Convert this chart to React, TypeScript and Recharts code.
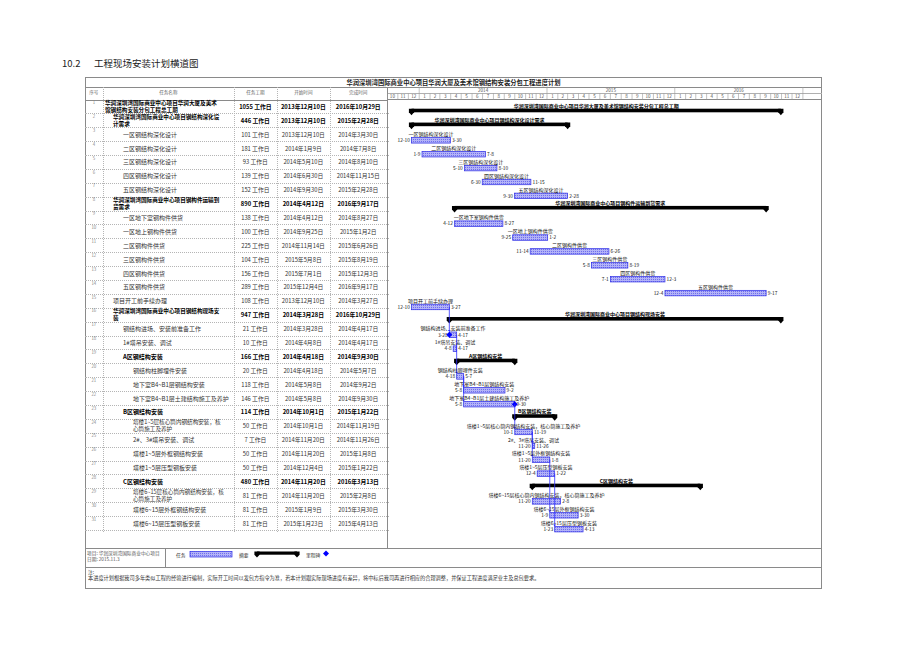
import React from 'react';
import { BarChart, Bar, XAxis, YAxis } from 'recharts';

const taskNames = [
  '华润深圳湾国际商业中心项目华润大厦及美术馆钢结构安装分包工程总工期',
  '华润深圳湾国际商业中心项目钢结构深化设计需求',
  '一区钢结构深化设计',
  '二区钢结构深化设计',
  '三区钢结构深化设计',
  '四区钢结构深化设计',
  '五区钢结构深化设计',
  '华润深圳湾国际商业中心项目钢构件运输到货需求',
  '一区地下室钢构件供货',
  '一区地上钢构件供货',
  '二区钢构件供货',
  '三区钢构件供货',
  '四区钢构件供货',
  '五区钢构件供货',
  '项目开工前手续办理',
  '华润深圳湾国际商业中心项目钢结构现场安装',
  '钢结构进场、安装前准备工作',
  '1#塔吊安装、调试',
  'A区钢结构安装',
  '钢结构柱脚埋件安装',
  '地下室B4~B1层钢结构安装',
  '地下室B4~B1层土建结构施工及养护',
  'B区钢结构安装',
  '塔楼1~5层核心筒内钢结构安装，核心筒施工及养护',
  '2#、3#塔吊安装、调试',
  '塔楼1~5层外框钢结构安装',
  '塔楼1~5层压型钢板安装',
  'C区钢结构安装',
  '塔楼6~15层核心筒内钢结构安装，核心筒施工及养护',
  '塔楼6~15层外框钢结构安装',
  '塔楼6~15层压型钢板安装',
];

const durations = [1055, 446, 101, 181, 93, 139, 152, 890, 138, 100, 225, 104, 156, 289, 108, 947, 21, 10, 166, 20, 118, 146, 114, 50, 7, 50, 50, 480, 81, 81, 81];

const startDates = [
  '2013-12-10', '2013-12-10', '2013-12-10', '2014-01-09', '2014-05-10', '2014-06-30', '2014-09-30',
  '2014-04-12', '2014-04-12', '2014-09-25', '2014-11-14', '2015-05-08', '2015-07-01', '2015-12-04',
  '2013-12-10', '2014-03-28', '2014-03-28', '2014-04-08', '2014-04-18', '2014-04-18', '2014-05-08',
  '2014-05-08', '2014-10-01', '2014-10-01', '2014-11-20', '2014-11-20', '2014-12-04', '2014-11-20',
  '2014-11-20', '2015-01-09', '2015-01-23',
];

const endDates = [
  '2016-10-29', '2015-02-28', '2014-03-30', '2014-07-08', '2014-08-10', '2014-11-15', '2015-02-28',
  '2016-09-17', '2014-08-27', '2015-01-02', '2015-06-26', '2015-08-19', '2015-12-03', '2016-09-17',
  '2014-03-27', '2016-10-29', '2014-04-17', '2014-04-17', '2014-09-30', '2014-05-07', '2014-09-02',
  '2014-09-30', '2015-01-22', '2014-11-19', '2014-11-26', '2015-01-08', '2015-01-22', '2016-03-13',
  '2015-02-08', '2015-03-30', '2015-04-13',
];

// outline level of each task (indent in the name column)
const levels = [0, 1, 2, 2, 2, 2, 2, 1, 2, 2, 2, 2, 2, 2, 1, 1, 2, 2, 2, 3, 3, 3, 2, 3, 3, 3, 3, 2, 3, 3, 3];
// 序号 of summary (摘要) rows
const summaryRows = [1, 2, 8, 16, 19, 23, 28];
// finish-to-start links [predecessor, successor]
const links: [number, number][] = [[15, 17], [17, 20], [20, 21], [20, 22], [22, 24], [24, 25], [24, 26], [26, 30], [27, 31]];
// milestone diamonds [row, which end]
const diamonds: [number, 'start' | 'end'][] = [[17, 'start'], [22, 'end']];
// where the long names wrap in the table (序号 -> chars on first line)
const nameBreaks: Record<number, number> = { 1: 20, 2: 19, 8: 19, 16: 19, 24: 17, 29: 18 };

const headerYears = [2014, 2015, 2016];
const headerFirst = [2013, 10];
const headerLast = [2016, 12];

const tableHeads = ['序号', '任务名称', '任务工期', '开始时间', '完成时间'];

// ---- layout ----
const FONT = '"Noto Sans CJK SC", "Noto Sans", sans-serif';
const FRAME_L = 85;
const FRAME_R = 822;
const FRAME_T = 77;
const FRAME_B = 589;
const HEAD_Y = 87;
const BODY_Y = 99.5;
const BODY_H = 430.5;
const ROW_H = BODY_H / taskNames.length;
const GANTT_X = 386.5;
const CHART_W = FRAME_R - GANTT_X;
const HEADER_H = BODY_Y - HEAD_Y;
const EXTRA_B = 14;
const DOMAIN_END = 1244;
const COLS = [85, 102.7, 234, 276.7, 330, 386.5];
const INDENT = [105, 113, 123, 133];

const DAY = 86400000;
const ORIGIN = Date.UTC(2013, 9, 1);
const dayOf = (s: string) => {
  const [y, m, d] = s.split('-').map(Number);
  return (Date.UTC(y, m - 1, d) - ORIGIN) / DAY;
};
const cnDate = (s: string) => {
  const [y, m, d] = s.split('-').map(Number);
  return `${y}年${m}月${d}日`;
};
const shortDate = (s: string) => {
  const [, m, d] = s.split('-').map(Number);
  return `${m}-${d}`;
};

const rows = taskNames.map((name, i) => ({
  id: i + 1,
  name,
  dur: durations[i],
  start: startDates[i],
  end: endDates[i],
  level: levels[i],
  summary: summaryRows.includes(i + 1),
  range: [dayOf(startDates[i]), dayOf(endDates[i]) + 1],
}));

// header ticks: month dividers, month labels, year labels
type TickInfo = { kind: 'div' | 'month' | 'year'; label?: string; full?: boolean };
const tickInfo = new Map<number, TickInfo>();
{
  let y = headerFirst[0];
  let m = headerFirst[1];
  while (y < headerLast[0] || (y === headerLast[0] && m <= headerLast[1])) {
    const s = (Date.UTC(y, m - 1, 1) - ORIGIN) / DAY;
    const e = (Date.UTC(y, m, 1) - ORIGIN) / DAY;
    tickInfo.set(s, { kind: 'div', full: m === 1 });
    tickInfo.set((s + e) / 2, { kind: 'month', label: String(m) });
    m++;
    if (m > 12) { m = 1; y++; }
  }
  tickInfo.set((Date.UTC(y, m - 1, 1) - ORIGIN) / DAY, { kind: 'div', full: true });
  headerYears.forEach((yr) => {
    const s = (Date.UTC(yr, 0, 1) - ORIGIN) / DAY;
    const e = (Date.UTC(yr + 1, 0, 1) - ORIGIN) / DAY;
    tickInfo.set((s + e) / 2, { kind: 'year', label: String(yr) });
  });
}
const headerTicks = [...tickInfo.keys()].sort((a, b) => a - b);

const HeaderTick = (props: any) => {
  const { x, y, payload } = props;
  const info = tickInfo.get(payload.value);
  if (!info) return <g />;
  if (info.kind === 'div') {
    return <line x1={x} x2={x} y1={y} y2={y - (info.full ? HEADER_H : HEADER_H / 2)} stroke="#9a9a9a" strokeWidth={0.6} />;
  }
  if (info.kind === 'month') {
    return <text x={x} y={y - 1.4} fontSize={4.6} textAnchor="middle" fill="#555" fontFamily={FONT}>{info.label}</text>;
  }
  return <text x={x} y={y - 7.6} fontSize={4.6} textAnchor="middle" fill="#555" fontFamily={FONT}>{info.label}</text>;
};

const GanttShape = (props: any) => {
  const { x, y, width, height, payload } = props;
  if (x == null || payload == null) return <g />;
  const cy = y + height / 2;
  const id = payload.id;
  const labelX = x + width / 2;
  if (payload.summary) {
    const t = cy + 2.2;
    const b = cy + 5.8;
    const cap = (cx: number) => `${cx - 2.6},${t} ${cx + 2.6},${t} ${cx + 2.6},${b} ${cx},${b + 3} ${cx - 2.6},${b}`;
    return (
      <g>
        <rect x={x} y={t} width={width} height={b - t} fill="#000" />
        <polygon points={cap(x)} fill="#000" />
        <polygon points={cap(x + width)} fill="#000" />
        <text x={labelX} y={cy + 1.4} fontSize={5} fontWeight={700} textAnchor="middle" fill="#000" fontFamily={FONT}>{payload.name}</text>
      </g>
    );
  }
  const t = cy + 3.3;
  const h = 5.5;
  const mid = t + h / 2;
  const inLinks = links.filter((l) => l[1] === id);
  const marks = diamonds.filter((d) => d[0] === id);
  return (
    <g>
      {inLinks.map(([p]) => {
        const py = mid - (id - p) * ROW_H;
        return (
          <g key={p}>
            <line x1={x} x2={x} y1={py} y2={t - 1.5} stroke="#2d2dff" strokeWidth={0.8} />
            <polygon points={`${x - 1.4},${t - 2} ${x + 1.4},${t - 2} ${x},${t}`} fill="#2d2dff" />
          </g>
        );
      })}
      <rect x={x} y={t} width={Math.max(width, 1)} height={h} fill="url(#taskHatch)" stroke="#2a2ae6" strokeWidth={0.7} />
      <text x={labelX} y={cy + 1.8} fontSize={5} textAnchor="middle" fill="#111" fontFamily={FONT}>{payload.name}</text>
      <text x={x - 1.6} y={mid + 1.8} fontSize={4.8} textAnchor="end" fill="#111" fontFamily={FONT}>{shortDate(payload.start)}</text>
      <text x={x + width + 1.6} y={mid + 1.8} fontSize={4.8} textAnchor="start" fill="#111" fontFamily={FONT}>{shortDate(payload.end)}</text>
      {marks.map(([, which]) => {
        const dx = which === 'start' ? x : x + width;
        return <polygon key={which} points={`${dx},${mid - 3} ${dx + 3},${mid} ${dx},${mid + 3} ${dx - 3},${mid}`} fill="#0000ff" />;
      })}
    </g>
  );
};

const abs = (left: number, top: number, width: number, height: number, extra: React.CSSProperties = {}): React.CSSProperties => ({
  position: 'absolute', left, top, width, height, boxSizing: 'border-box', ...extra,
});
const HLine = ({ x1, x2, y, s = '1px solid #8a8a8a' }: any) => <div style={abs(x1, y, x2 - x1, 0, { borderTop: s })} />;
const VLine = ({ x, y1, y2, s = '1px solid #8a8a8a' }: any) => <div style={abs(x, y1, 0, y2 - y1, { borderLeft: s })} />;

const NameCell = ({ r, top, color }: any) => {
  const n = nameBreaks[r.id];
  const left = INDENT[r.level];
  const width = COLS[2] - left;
  const weight = r.summary ? 700 : 400;
  if (!n) {
    return (
      <div style={abs(left, top, width, ROW_H, { display: 'flex', alignItems: 'center', fontSize: 6, fontWeight: weight, color, whiteSpace: 'nowrap' })}>
        {r.name}
      </div>
    );
  }
  return (
    <div style={abs(left, top + 0.2, width, ROW_H, { fontSize: 5.6, lineHeight: '7px', fontWeight: weight, color, whiteSpace: 'nowrap' })}>
      {r.name.slice(0, n)}
      <br />
      {r.name.slice(n)}
    </div>
  );
};

export default function App() {
  const dotted = '1px dotted #b5b5b5';
  return (
    <div style={{ position: 'absolute', left: 0, top: 0, width: 920, height: 651, background: '#fff', fontFamily: FONT, color: '#222' }}>
      <svg width={0} height={0} style={{ position: 'absolute' }}>
        <defs>
          <pattern id="taskHatch" width={2} height={2} patternUnits="userSpaceOnUse">
            <rect width={2} height={2} fill="#b3b3f7" />
            <rect width={1} height={1} fill="#6f6fee" />
          </pattern>
        </defs>
      </svg>

      {/* section title */}
      <div style={abs(62, 57, 40, 12, { fontSize: 9.5, lineHeight: '12px' })}>10.2</div>
      <div style={abs(94, 57, 200, 12, { fontSize: 9.5, lineHeight: '12px' })}>工程现场安装计划横道图</div>

      {/* frame */}
      <div style={abs(FRAME_L, FRAME_T, FRAME_R - FRAME_L, FRAME_B - FRAME_T, { border: '1px solid #8a8a8a' })} />
      <div style={abs(FRAME_L, FRAME_T, FRAME_R - FRAME_L, HEAD_Y - FRAME_T, { display: 'flex', alignItems: 'center', justifyContent: 'center', fontSize: 6.3, fontWeight: 700 })}>
        华润深圳湾国际商业中心项目华润大厦及美术馆钢结构安装分包工程进度计划
      </div>
      <HLine x1={FRAME_L} x2={FRAME_R} y={HEAD_Y} />
      <HLine x1={FRAME_L} x2={GANTT_X} y={BODY_Y} />
      <HLine x1={GANTT_X} x2={FRAME_R} y={HEAD_Y + HEADER_H / 2} s="1px solid #b0b0b0" />

      {/* table header */}
      {tableHeads.map((h, i) => (
        <div key={h} style={abs(COLS[i], HEAD_Y, COLS[i + 1] - COLS[i], 10, { display: 'flex', alignItems: 'center', justifyContent: 'center', fontSize: 4.6, color: '#666' })}>{h}</div>
      ))}
      {COLS.slice(1, 5).map((x) => <VLine key={x} x={x} y1={HEAD_Y} y2={BODY_Y + BODY_H + 2} s={dotted} />)}
      <VLine x={GANTT_X} y1={HEAD_Y} y2={548} />

      {/* table rows */}
      {rows.map((r, i) => {
        const top = BODY_Y + i * ROW_H;
        const bold = r.summary;
        const c = bold ? '#000' : '#333';
        const cell = (l: number, w: number, txt: string, k: string) => (
          <div key={k} style={abs(l, top, w, ROW_H, { display: 'flex', alignItems: 'center', justifyContent: 'center', fontSize: 5.8, fontWeight: bold ? 700 : 400, color: c, whiteSpace: 'nowrap' })}>{txt}</div>
        );
        return (
          <React.Fragment key={r.id}>
            <div style={abs(COLS[0], top + 0.6, COLS[1] - COLS[0], 5, { fontSize: 4.4, lineHeight: '5px', textAlign: 'center', color: '#888' })}>{r.id}</div>
            <NameCell r={r} top={top} color={c} />
            {cell(COLS[2], COLS[3] - COLS[2], `${r.dur} 工作日`, 'd')}
            {cell(COLS[3], COLS[4] - COLS[3], cnDate(r.start), 's')}
            {cell(COLS[4], COLS[5] - COLS[4], cnDate(r.end), 'e')}
            <HLine x1={FRAME_L} x2={GANTT_X + 2.5} y={top + ROW_H} s={dotted} />
          </React.Fragment>
        );
      })}

      {/* gantt */}
      <div style={abs(GANTT_X, HEAD_Y, CHART_W, HEADER_H + BODY_H + EXTRA_B)}>
        <BarChart
          layout="vertical"
          width={CHART_W}
          height={HEADER_H + BODY_H + EXTRA_B}
          data={rows}
          margin={{ top: 0, right: 0, bottom: EXTRA_B, left: 0 }}
          barCategoryGap={0}
        >
          <XAxis
            type="number"
            domain={[0, DOMAIN_END]}
            allowDataOverflow
            orientation="top"
            height={HEADER_H}
            ticks={headerTicks}
            interval={0}
            tickSize={0}
            tickMargin={0}
            tickLine={false}
            axisLine={{ stroke: '#8a8a8a' }}
            tick={HeaderTick}
          />
          <YAxis type="category" dataKey="id" hide />
          <Bar dataKey="range" barSize={6} shape={GanttShape} isAnimationActive={false} />
        </BarChart>
      </div>

      {/* legend */}
      <HLine x1={FRAME_L} x2={FRAME_R} y={548} />
      <HLine x1={FRAME_L} x2={FRAME_R} y={567} />
      <VLine x={165} y1={548} y2={567} />
      <div style={abs(87, 549.5, 80, 6, { fontSize: 4.7, lineHeight: '6px', color: '#555', whiteSpace: 'nowrap' })}>项目: 华润深圳湾国际商业中心项目</div>
      <div style={abs(87, 556, 80, 6, { fontSize: 4.7, lineHeight: '6px', color: '#555' })}>日期: 2015.11.3</div>
      <div style={abs(176, 551, 20, 7, { fontSize: 4.8, lineHeight: '7px', color: '#333' })}>任务</div>
      <svg style={abs(188, 549, 150, 12)} width={150} height={12}>
        <rect x={2} y={2.5} width={42} height={5.5} fill="url(#taskHatch)" stroke="#2a2ae6" strokeWidth={0.7} />
        <rect x={69} y={2.5} width={40} height={3.2} fill="#000" />
        <polygon points="66.4,2.5 71.6,2.5 71.6,5.7 69,8.5 66.4,5.7" fill="#000" />
        <polygon points="106.4,2.5 111.6,2.5 111.6,5.7 109,8.5 106.4,5.7" fill="#000" />
        <polygon points="138,1.5 141,4.5 138,7.5 135,4.5" fill="#0000ff" />
      </svg>
      <div style={abs(239, 551, 20, 7, { fontSize: 4.8, lineHeight: '7px', color: '#333' })}>摘要</div>
      <div style={abs(306, 551, 20, 7, { fontSize: 4.8, lineHeight: '7px', color: '#333' })}>里程碑</div>

      {/* notes */}
      <div style={abs(88, 568.5, 20, 6, { fontSize: 4.8, lineHeight: '6px', color: '#333' })}>注:</div>
      <div style={abs(88, 575, 720, 6, { fontSize: 5.2, lineHeight: '6px', color: '#333', whiteSpace: 'nowrap' })}>
        本进度计划根据我司多年类似工程的经验进行编制，实际开工时间以发包方指令为准，若本计划跟实际现场进度有差异，将中标后我司再进行相应的合理调整，并保证工程进度满足业主及总包要求。
      </div>
    </div>
  );
}
